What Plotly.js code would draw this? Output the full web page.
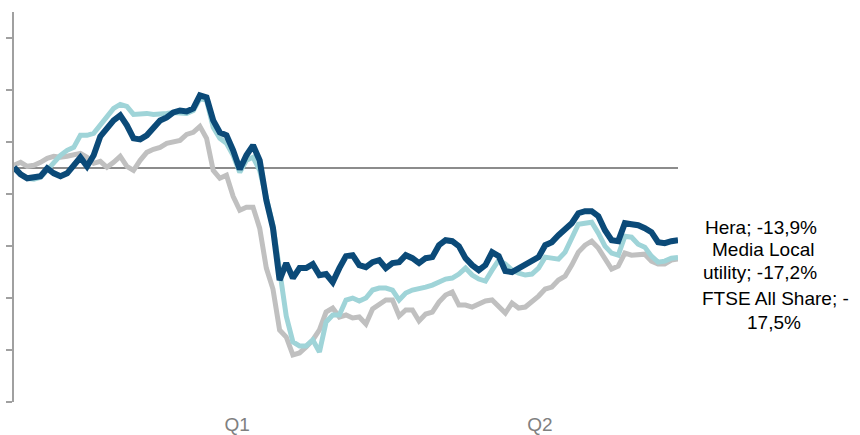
<!DOCTYPE html>
<html>
<head>
<meta charset="utf-8">
<script src="https://cdn.plot.ly/plotly-3.0.1.min.js"></script>
<style>
html,body{margin:0;padding:0;background:#fff;}
#chart{width:860px;height:435px;}
</style>
</head>
<body>
<div id="chart"></div>
<script>
// Trading-session index (roughly every 1.25 sessions), first half of the year
var sessions = [0,1,2,3,4,5,6,7,8,9,10,11,12,13,14,15,16,17,18,19,20,21,22,23,24,25,26,27,28,29,30,31,32,33,34,35,36,37,38,39,40,41,42,43,44,45,46,47,48,49,50,51,52,53,54,55,56,57,58,59,60,61,62,63,64,65,66,67,68,69,70,71,72,73,74,75,76,77,78,79,80,81,82,83,84,85,86,87,88,89,90,91,92,93,94,95,96,97,98,99,100];

// Performance since start of period, %
var hera = [0.13,-1.21,-1.98,-1.79,-1.59,-0.06,-1.02,-1.59,-1.02,0.52,2.05,0.33,2.44,6.08,7.62,9.15,10.12,8.20,5.70,5.51,
  6.28,7.62,9.15,9.73,10.69,11.07,10.88,11.46,13.95,13.57,9.15,6.85,6.28,3.40,-0.25,2.44,4.36,1.48,-6.20,-11.57,
  -21.55,-18.29,-21.17,-19.25,-19.25,-18.48,-20.63,-20.40,-21.94,-19.25,-16.95,-16.76,-18.68,-19.06,-18.10,-17.72,-19.25,-18.29,-18.10,-16.76,
  -17.34,-18.29,-17.34,-17.14,-14.84,-13.88,-14.07,-15.03,-17.34,-18.68,-19.64,-18.68,-16.18,-16.95,-19.83,-20.02,-19.25,-18.68,-17.91,-17.14,
  -14.84,-14.26,-12.92,-11.77,-10.61,-8.70,-8.31,-8.31,-9.27,-11.96,-13.88,-14.07,-10.61,-10.81,-11.00,-11.57,-12.34,-14.26,-14.45,-14.07,-13.9];

var mediaLocalUtility = [-0.06,-1.21,-1.98,-2.17,-1.79,-0.44,1.09,2.44,3.40,3.97,6.28,6.28,6.66,8.39,9.73,11.46,12.23,11.84,10.31,10.50,
  10.50,10.31,10.31,10.50,10.69,10.50,10.50,11.07,13.38,12.99,7.81,5.70,4.74,2.44,-0.83,1.48,2.05,-0.44,-6.20,-11.00,
  -19.64,-28.47,-33.46,-34.22,-34.22,-33.07,-35.37,-29.61,-28.27,-28.27,-25.39,-25.01,-25.58,-25.01,-23.47,-23.09,-23.09,-23.47,-25.39,-24.05,
  -23.47,-23.28,-22.90,-22.51,-21.94,-21.36,-21.17,-20.40,-19.25,-20.59,-21.36,-21.75,-19.64,-17.72,-18.48,-19.64,-20.21,-20.59,-20.40,-19.25,
  -17.14,-17.34,-17.53,-16.18,-13.49,-10.81,-10.61,-10.42,-12.53,-15.03,-16.37,-16.76,-13.11,-13.30,-14.65,-15.22,-16.95,-18.10,-17.91,-17.34,-17.2];

var ftseAllShare = [0.52,1.09,0.33,0.52,1.09,1.86,2.25,2.05,2.25,2.63,2.82,2.05,0.90,1.29,0.13,1.09,2.25,0.33,-0.44,1.48,
  3.01,3.59,3.97,4.74,5.12,5.32,6.47,6.85,8.00,5.70,-0.44,-1.98,-1.40,-5.43,-8.12,-7.54,-7.54,-11.57,-19.25,-23.28,
  -31.15,-32.50,-35.95,-35.57,-34.42,-33.07,-31.15,-27.70,-26.93,-28.66,-28.27,-28.85,-28.66,-30.01,-27.12,-26.16,-25.39,-25.39,-28.46,-27.31,
  -27.31,-29.42,-28.08,-27.70,-25.78,-24.43,-23.86,-26.35,-26.35,-26.74,-26.16,-25.58,-25.39,-26.74,-27.89,-25.97,-26.93,-26.74,-25.78,-24.63,
  -23.28,-22.90,-21.55,-20.78,-18.68,-16.18,-14.84,-14.07,-15.41,-17.34,-19.45,-18.87,-16.37,-16.76,-16.57,-16.57,-17.91,-18.48,-18.48,-17.72,-17.5];

var quarterTickPositions = [33.6, 79.2];
var quarterTickLabels = ['Q1', 'Q2'];

var seriesNames = ['FTSE All Share', 'Media Local utility', 'Hera'];
// End-of-line data labels, one entry per text line
var endLabelLines = ['Hera; -13,9%', 'Media Local', 'utility; -17,2%', 'FTSE All Share; -', '17,5%'];

var traces = [
  {x: sessions, y: ftseAllShare, name: seriesNames[0], type: 'scatter', mode: 'lines',
   line: {color: '#c0c0c0', width: 5, shape: 'linear'}},
  {x: sessions, y: mediaLocalUtility, name: seriesNames[1], type: 'scatter', mode: 'lines',
   line: {color: '#9fd4d8', width: 5, shape: 'linear'}},
  {x: sessions, y: hera, name: seriesNames[2], type: 'scatter', mode: 'lines',
   line: {color: '#0b4a78', width: 6, shape: 'linear'}}
];

var labelFont = {family: 'Liberation Sans, Arial, sans-serif', size: 19, color: '#000'};

// plot area: x 14..678 px, y 12..402 px
function px(xp) { return (xp - 14) / 664; }
function py(yp) { return (402 - yp) / 390; }
var labelCenters = [[760.5, 227], [763, 249.5], [760, 272.5], [775, 298], [774, 322]];

var annotations = endLabelLines.map(function (t, i) {
  return {xref: 'paper', yref: 'paper', x: px(labelCenters[i][0]), y: py(labelCenters[i][1]),
    text: t, showarrow: false, xanchor: 'center', yanchor: 'middle', align: 'center', font: labelFont};
});

var layout = {
  width: 860, height: 435,
  margin: {l: 14, r: 182, t: 12, b: 33, pad: 0},
  paper_bgcolor: '#fff', plot_bgcolor: '#fff',
  showlegend: false,
  font: {family: 'Liberation Sans, Arial, sans-serif'},
  xaxis: {
    range: [0, 100], showgrid: false, zeroline: false, showline: false,
    tickmode: 'array', tickvals: quarterTickPositions, ticktext: quarterTickLabels,
    ticks: '', ticklabelstandoff: 9,
    tickfont: {family: 'Liberation Sans, Arial, sans-serif', size: 19, color: '#808080'},
    fixedrange: true
  },
  yaxis: {
    range: [-45, 30], showgrid: false, showticklabels: false,
    tickmode: 'linear', tick0: -45, dtick: 10,
    ticks: 'outside', ticklen: 6, tickwidth: 2, tickcolor: '#a0a0a0',
    showline: true, linecolor: '#a0a0a0', linewidth: 2,
    zeroline: true, zerolinecolor: '#8c8c8c', zerolinewidth: 1.5,
    fixedrange: true
  },
  annotations: annotations
};

Plotly.newPlot('chart', traces, layout, {displayModeBar: false, staticPlot: true});
</script>
</body>
</html>
